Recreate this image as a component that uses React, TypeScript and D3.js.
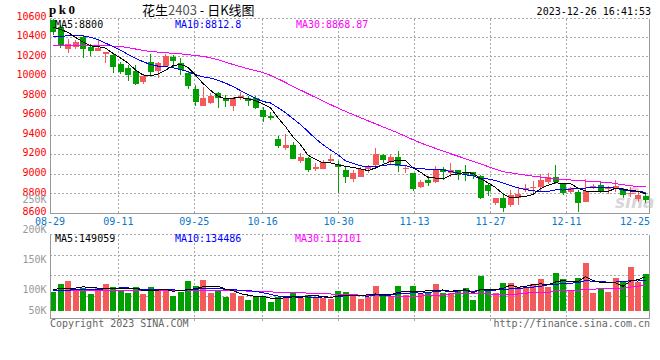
import React from 'react';
import * as d3 from 'd3';

const dates = [
  '08-29','08-30','08-31','09-01','09-04','09-05','09-06','09-07','09-08',
  '09-11','09-12','09-13','09-14','09-15','09-18','09-19','09-20','09-21','09-22',
  '09-25','09-26','09-27','09-28','10-09','10-10','10-11','10-12','10-13',
  '10-16','10-17','10-18','10-19','10-20','10-23','10-24','10-25','10-26','10-27',
  '10-30','10-31','11-01','11-02','11-03','11-06','11-07','11-08','11-09','11-10',
  '11-13','11-14','11-15','11-16','11-17','11-20','11-21','11-22','11-23','11-24',
  '11-27','11-28','11-29','11-30','12-01','12-04','12-05','12-06','12-07','12-08',
  '12-11','12-12','12-13','12-14','12-15','12-18','12-19','12-20','12-21','12-22',
  '12-25','12-26'
];

const opens = [
  10574,10502,10283,10301,10403,10301,10261,10227,10217,10122,
  10087,10054,9944,10148,10057,10104,10196,10132,10036,9870,
  9700,9730,9832,9765,9700,9781,9775,9781,9656,9595,
  9360,9271,9296,9139,9169,9054,9054,9135,9105,9044,
  8952,8975,9054,9095,9197,9122,9173,9051,9010,8867,
  8942,8924,9054,9010,9044,9026,9026,8983,8891,8710,
  8755,8687,8755,8840,8857,8873,8924,8975,8898,8819,
  8822,8720,8867,8891,8847,8847,8840,8799,8745,8782
];
const highs = [
  10590,10523,10387,10370,10421,10326,10387,10250,10234,10148,
  10115,10115,10013,10224,10142,10227,10217,10189,10046,9911,
  9887,9826,9842,9809,9785,9836,9799,9799,9689,9632,
  9391,9411,9332,9214,9179,9112,9146,9197,9139,9077,
  9044,9077,9095,9271,9207,9204,9238,9095,9016,8942,
  8983,9085,9077,9118,9044,9095,9026,8993,8898,8755,
  8806,8840,8857,8901,8931,9000,9010,9091,8908,8873,
  8840,8949,8898,8914,8881,8942,8857,8873,8822,8822
];
const lows = [
  10427,10288,10234,10285,10193,10207,10261,10132,10036,10020,
  9952,9911,9921,10013,9985,10097,10081,10013,9867,9700,
  9700,9717,9679,9689,9645,9758,9696,9666,9530,9554,
  9265,9248,9156,9118,9026,9037,9054,9128,8806,8914,
  8924,8975,9016,9085,9112,9095,9026,9010,8833,8863,
  8884,8908,8942,8975,8942,8935,8952,8748,8782,8687,
  8618,8669,8687,8822,8799,8830,8901,8898,8789,8806,
  8618,8720,8850,8806,8799,8822,8755,8771,8720,8710
];
const closes = [
  10455,10324,10336,10352,10285,10261,10291,10250,10091,10046,
  10013,9918,10005,10046,10132,10207,10159,10064,9904,9734,
  9781,9802,9775,9751,9781,9799,9751,9679,9581,9577,
  9292,9299,9156,9179,9044,9077,9122,9156,9077,8969,
  9016,9051,9071,9207,9146,9179,9085,9067,8850,8924,
  8914,9044,9026,9044,8993,8993,8986,8755,8833,8755,
  8659,8789,8796,8857,8867,8942,8975,8924,8812,8863,
  8710,8830,8881,8833,8857,8881,8789,8812,8789,8738
];

const ma5 = [
  10505,10480,10450,10400,10350,10312,10305,10288,10236,10188,
  10138,10064,10015,10006,10023,10062,10110,10122,10093,10014,
  9928,9857,9799,9769,9778,9782,9771,9752,9718,9677,
  9576,9486,9381,9301,9194,9151,9116,9116,9095,9080,
  9068,9054,9037,9063,9098,9131,9138,9137,9065,9021,
  8968,8960,8952,8990,9004,9020,9008,8954,8912,8864,
  8798,8758,8766,8771,8794,8850,8887,8913,8904,8903,
  8857,8828,8819,8823,8822,8856,8848,8834,8826,8800
];
const ma10 = [
  10405,10410,10415,10420,10415,10400,10375,10340,10305,10269,
  10225,10184,10151,10121,10105,10100,10087,10068,10049,10018,
  9995,9983,9960,9931,9896,9855,9814,9776,9743,9728,
  9679,9629,9567,9509,9436,9364,9301,9248,9198,9137,
  9110,9085,9076,9079,9089,9099,9096,9087,9064,9060,
  9049,9049,9044,9028,9013,8994,8984,8953,8951,8934,
  8909,8883,8860,8842,8829,8824,8823,8840,8838,8848,
  8854,8858,8866,8864,8863,8857,8838,8827,8825,8813
];
const ma30 = [
  10318,10318,10318,10318,10317,10316,10315,10313,10310,10305,
  10295,10280,10265,10255,10248,10242,10236,10230,10222,10213,
  10205,10190,10170,10145,10122,10100,10077,10058,10040,10010,
  9975,9937,9898,9860,9822,9785,9748,9712,9676,9642,
  9610,9578,9546,9515,9484,9453,9422,9387,9353,9320,
  9292,9264,9237,9210,9184,9158,9131,9105,9078,9052,
  9026,9014,9002,8990,8980,8970,8960,8953,8947,8941,
  8935,8930,8925,8920,8915,8904,8892,8881,8875,8869
];

const volumes = [
  84000,117000,130000,94000,99000,74000,101000,117000,103000,88000,
  80000,103000,74000,103000,94000,94000,67000,84000,130000,109000,
  135000,78000,91000,60000,80000,67000,48000,60000,67000,39000,
  60000,62000,80000,55000,70000,62000,55000,51000,88000,83000,
  67000,52000,61000,109000,65000,65000,109000,70000,109000,72000,
  80000,117000,80000,80000,87000,99000,48000,152000,88000,80000,
  121000,123000,106000,106000,117000,138000,105000,165000,138000,90000,
  144000,210000,80000,99000,84000,144000,131000,193000,128000,161000
];
const volMa5 = [
  94000,97000,99000,100000,104800,102800,99600,97000,98800,96600,
  97800,98200,89600,89600,90800,93600,86400,88400,93800,96800,
  105000,107200,108600,94600,88800,75200,69200,63000,64400,56200,
  54800,57600,61600,59200,65400,65800,64400,58600,65200,67800,
  68800,68200,70200,74400,70800,70400,81800,83600,83600,85000,
  88000,89600,91600,85800,88800,92600,78800,93200,94800,93400,
  97800,112800,103600,107200,114600,118000,114400,126200,132600,127200,
  128400,149400,132400,124600,123400,123400,107600,130200,136000,149059
];
const volMa10 = [
  90000,90000,91000,92000,93000,94000,95000,96000,98000,100700,
  100300,98900,93300,94200,93700,95700,92300,89000,91700,93800,
  99300,96800,98500,94200,92800,90100,88200,85800,79500,72500,
  65000,63400,62300,61800,60800,60300,61000,60100,62200,66600,
  67300,66300,64400,69800,69300,69600,75000,76900,79000,77900,
  79200,85700,87600,84700,86900,90300,84200,92400,90300,91100,
  95200,95800,98400,101000,104000,107900,113600,114900,119900,120900,
  123200,131900,129300,128600,125300,125900,128500,131300,130300,134486
];
const volMa30 = [
  88000,88000,88000,88000,88000,88000,89000,89000,89000,89000,
  89000,89000,90000,90000,90000,90000,91000,91000,91000,91000,
  91000,91000,91000,91000,90000,89000,86000,85000,84000,83000,
  82000,82000,81000,79000,78000,77000,76000,74000,73000,73000,
  72000,68000,67000,66000,66000,65000,65000,65000,65000,65000,
  66000,67000,70000,74000,74000,74000,74000,74000,74000,73000,
  73000,73000,74000,78000,79000,80000,80000,88000,90000,91000,
  91000,92000,95000,97000,98000,99000,99000,104000,108000,112101
];

const priceTicks = [10600,10400,10200,10000,9800,9600,9400,9200,9000,8800,8600];
const volTicks = [250000,200000,150000,100000,50000];
const xTickDates = ['08-29','09-11','09-25','10-16','10-30','11-13','11-27','12-11','12-25'];

const priceLegend = ['MA5:8800','MA10:8812.8','MA30:8868.87'];
const volLegend = ['MA5:149059','MA10:134486','MA30:112101'];

const RED = '#f55a5a';
const GREEN = '#00a000';
const MA_COLORS = ['#000000', '#0000ff', '#ff00ff'];
const GRID = '#a8a8a8';
const BORDER = '#999999';
const MONO = '"DejaVu Sans Mono", monospace';

export default function App() {
  const W = 660, H = 360;
  const left = 50, right = 650;

  const x = d3.scaleBand<string>().domain(dates).range([left - 0.75, right - 0.75]).paddingInner(0.2).paddingOuter(0.1);
  const bw = x.bandwidth();
  const cx = (i: number) => (x(dates[i]) as number) + bw / 2;
  const gx = d3.scaleLinear().domain([0, dates.length - 1]).range([left, right]);

  const y = d3.scaleLinear().domain([8600, 10600]).range([213.3, 17.7]);
  const priceTop = 18.5, priceBottom = y(8600);

  const vy = d3.scaleLinear().domain([0, 335000]).range([311, 234]);
  const volTop = 234.5, volBottom = 318.5;
  const vLabelY = d3.scaleLinear().domain([0, 250000]).range([353.3, 203.3]);
  const vGrid = d3.scaleLinear().domain([0, 4]).range([volTop, 316.7]);

  const priceLine = (arr: number[]) => d3.line<number>().x((_, i) => cx(i)).y(v => y(v))(arr) || '';
  const volLine = (arr: number[]) => d3.line<number>().x((_, i) => cx(i)).y(v => vy(v))(arr) || '';

  const gridIdx = xTickDates.map(d => dates.indexOf(d)).filter(i => gx(i) > left + 2 && gx(i) < right - 10);

  return (
    <div style={{ width: W, height: H }}>
      <style>{`body{margin:0;padding:0;background:#fff}`}</style>
      <svg width={W} height={H} style={{ display: 'block', background: '#fff' }}>
        {/* header */}
        <text x={49} y={14} fontFamily='"Liberation Serif", serif' fontWeight="bold" fontSize={13} letterSpacing={2.5} fill="#000">pk0</text>
        <text x={142} y={14.5} fontFamily='"Noto Sans CJK SC", sans-serif' fontSize={13} fill="#000">
          花生<tspan fill="#555">2403</tspan> - 日K线图
        </text>
        <text x={651} y={15} textAnchor="end" fontFamily={MONO} fontSize={10} fill="#000">2023-12-26 16:41:53</text>

        {/* price grid */}
        <g shapeRendering="crispEdges">
          {priceTicks.filter(t => t !== 8600 && t !== 10600).map(t => (
            <line key={'pg' + t} x1={left} x2={right} y1={y(t)} y2={y(t)} stroke={GRID} strokeDasharray="2,2" />
          ))}
          <line x1={left} x2={right} y1={priceTop} y2={priceTop} stroke={GRID} strokeDasharray="2,2" />
          {gridIdx.map(i => (
            <line key={'pv' + i} x1={gx(i)} x2={gx(i)} y1={priceTop} y2={priceBottom} stroke={GRID} strokeDasharray="2,2" />
          ))}
          <line x1={left} x2={left} y1={priceTop} y2={priceBottom} stroke={BORDER} />
          <line x1={left} x2={right} y1={priceBottom} y2={priceBottom} stroke={BORDER} />
          <line x1={right - 0.5} x2={right - 0.5} y1={priceTop} y2={priceBottom} stroke={BORDER} />
        </g>

        {/* watermark */}
        <g opacity={0.55}>
          <ellipse cx={634} cy={190} rx={5} ry={3} fill="#f4a0a0" />
          <text x={615} y={208} fontFamily='"DejaVu Sans", sans-serif' fontStyle="italic" fontWeight="bold" fontSize={17} fill="#b8b8b8">sina</text>
        </g>

        {/* candles */}
        <g shapeRendering="crispEdges">
          {dates.map((d, i) => {
            const o = opens[i], c = closes[i];
            const col = c >= o ? RED : GREEN;
            const top = y(Math.max(o, c)), bot = y(Math.min(o, c));
            return (
              <g key={'c' + d}>
                <line x1={cx(i)} x2={cx(i)} y1={y(highs[i])} y2={y(lows[i])} stroke={col} />
                <rect x={x(d)} y={top} width={bw} height={Math.max(1, bot - top)} fill={col} />
              </g>
            );
          })}
        </g>

        {/* price MAs */}
        <g fill="none" strokeWidth={1} shapeRendering="crispEdges">
          <path d={priceLine(ma30)} stroke={MA_COLORS[2]} />
          <path d={priceLine(ma10)} stroke={MA_COLORS[1]} />
          <path d={priceLine(ma5)} stroke={MA_COLORS[0]} />
        </g>

        {/* price legend */}
        {priceLegend.map((s, k) => (
          <text key={s} x={[55, 175, 296][k]} y={27.5} fontFamily={MONO} fontSize={10} fill={MA_COLORS[k]}>{s}</text>
        ))}

        {/* price axis labels */}
        {priceTicks.map(t => (
          <text key={'pl' + t} x={46.5} y={y(t) + 1.8} textAnchor="end" fontFamily={MONO} fontSize={10} fill="#ff0000">{t}</text>
        ))}

        {/* x labels */}
        {xTickDates.map(d => {
          const i = dates.indexOf(d);
          const half = d.length * 3;
          const cxl = Math.min(gx(i), right - half);
          return (
            <text key={'xl' + d} x={cxl} y={225} textAnchor="middle" fontFamily={MONO} fontSize={10} fill="#0a78c8">{d}</text>
          );
        })}

        {/* volume grid */}
        <g shapeRendering="crispEdges">
          <line x1={left} x2={right} y1={volTop} y2={volTop} stroke={GRID} strokeDasharray="2,2" />
          {[1, 2, 3].map(k => (
            <line key={'vg' + k} x1={left} x2={right} y1={vGrid(k)} y2={vGrid(k)} stroke={GRID} strokeDasharray="2,2" />
          ))}
          {gridIdx.map(i => (
            <line key={'vv' + i} x1={gx(i)} x2={gx(i)} y1={volTop} y2={volBottom + 4} stroke={GRID} strokeDasharray="2,2" />
          ))}
        </g>

        {/* volume bars */}
        <g shapeRendering="crispEdges">
          {dates.map((d, i) => (
            <rect key={'v' + d} x={x(d)} y={vy(volumes[i])} width={bw} height={vy(0) - vy(volumes[i])}
              fill={closes[i] >= opens[i] ? RED : GREEN} />
          ))}
        </g>

        {/* volume MAs */}
        <g fill="none" strokeWidth={1} shapeRendering="crispEdges">
          <path d={volLine(volMa30)} stroke={MA_COLORS[2]} />
          <path d={volLine(volMa10)} stroke={MA_COLORS[1]} />
          <path d={volLine(volMa5)} stroke={MA_COLORS[0]} />
        </g>

        <g shapeRendering="crispEdges">
          <line x1={left} x2={left} y1={volTop} y2={volBottom} stroke={BORDER} />
          <line x1={left} x2={right} y1={volBottom} y2={volBottom} stroke={BORDER} />
          <line x1={right - 0.5} x2={right - 0.5} y1={volTop} y2={volBottom} stroke={BORDER} />
        </g>

        {/* volume legend */}
        {volLegend.map((s, k) => (
          <text key={s} x={[55, 175, 295][k]} y={242} fontFamily={MONO} fontSize={10} fill={MA_COLORS[k]}>{s}</text>
        ))}

        {/* volume labels */}
        {volTicks.map(t => (
          <text key={'vl' + t} x={46.5} y={Math.min(314, vLabelY(t))} textAnchor="end" fontFamily={MONO} fontSize={10} fill="#999">{t / 1000 + 'K'}</text>
        ))}

        {/* footer */}
        <text x={50} y={327} fontFamily={MONO} fontSize={10} fill="#666">Copyright 2023 SINA.COM</text>
        <text x={650} y={327} textAnchor="end" fontFamily={MONO} fontSize={10} fill="#666">http://finance.sina.com.cn</text>
      </svg>
    </div>
  );
}
